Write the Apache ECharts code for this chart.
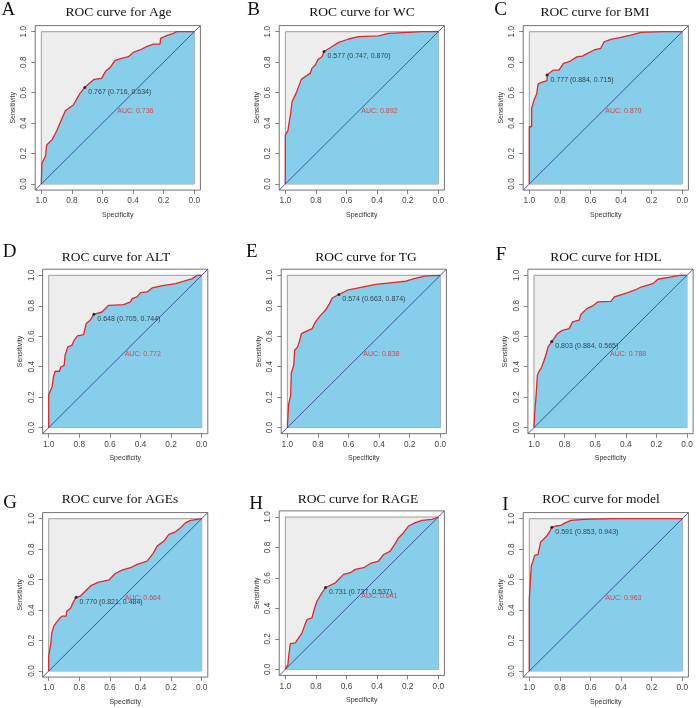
<!DOCTYPE html>
<html>
<head>
<meta charset="utf-8">
<script src="https://cdn.jsdelivr.net/npm/echarts@6/dist/echarts.min.js"></script>
<style>
  html, body { margin: 0; padding: 0; background: #fff; }
  #chart { width: 696px; height: 708px; }
</style>
</head>
<body>
<div id="chart"></div>
<script>
// ROC panels, values: [specificity, sensitivity]
const panelLetters = ['A', 'B', 'C', 'D', 'E', 'F', 'G', 'H', 'I'];
const markers = ['Age', 'WC', 'BMI', 'ALT', 'TG', 'HDL', 'AGEs', 'RAGE', 'model'];
const aucValues = [0.736, 0.892, 0.870, 0.772, 0.838, 0.788, 0.664, 0.641, 0.963];
const cutoffs = [0.767, 0.577, 0.777, 0.648, 0.574, 0.803, 0.770, 0.731, 0.591];
const bestSpec = [0.716, 0.747, 0.884, 0.705, 0.663, 0.884, 0.821, 0.737, 0.853];
const bestSens = [0.634, 0.870, 0.715, 0.744, 0.874, 0.565, 0.484, 0.537, 0.943];
const tickValues = [0, 0.2, 0.4, 0.6, 0.8, 1.0];

const rocAge = [[1,0],[0.996,0.136],[0.972,0.186],[0.965,0.256],[0.928,0.293],[0.90,0.348],
  [0.874,0.409],[0.843,0.481],[0.791,0.519],[0.747,0.595],[0.716,0.634],[0.686,0.661],
  [0.654,0.687],[0.606,0.694],[0.577,0.744],[0.551,0.764],[0.519,0.810],[0.475,0.825],
  [0.431,0.836],[0.399,0.864],[0.355,0.880],[0.312,0.902],[0.268,0.919],[0.224,0.919],
  [0.220,0.956],[0.181,0.974],[0.137,0.989],[0.115,1],[0,1]];
const rocWC = [[1,0],[1,0.322],[0.983,0.35],[0.974,0.409],[0.965,0.464],[0.956,0.540],
  [0.930,0.595],[0.895,0.687],[0.865,0.709],[0.837,0.726],[0.826,0.759],[0.804,0.781],
  [0.786,0.818],[0.760,0.836],[0.747,0.870],[0.706,0.895],[0.651,0.930],[0.586,0.952],
  [0.521,0.967],[0.390,0.972],[0.325,0.989],[0.194,0.996],[0.107,1],[0,1]];
const rocBMI = [[1,0],[1,0.376],[0.985,0.376],[0.985,0.497],[0.974,0.508],[0.969,0.551],
  [0.959,0.562],[0.952,0.591],[0.943,0.656],[0.926,0.665],[0.884,0.678],[0.884,0.715],
  [0.871,0.726],[0.843,0.748],[0.806,0.748],[0.777,0.792],[0.740,0.803],[0.686,0.836],
  [0.653,0.840],[0.620,0.858],[0.576,0.880],[0.533,0.891],[0.511,0.934],[0.467,0.950],
  [0.402,0.963],[0.336,0.978],[0.271,0.996],[0.118,1],[0,1]];
const rocALT = [[1,0],[1,0.217],[0.987,0.230],[0.978,0.267],[0.969,0.333],[0.958,0.370],
  [0.930,0.370],[0.921,0.398],[0.899,0.409],[0.893,0.475],[0.875,0.530],[0.849,0.540],
  [0.834,0.573],[0.812,0.602],[0.772,0.611],[0.755,0.683],[0.729,0.705],[0.705,0.744],
  [0.652,0.759],[0.608,0.803],[0.510,0.807],[0.466,0.825],[0.455,0.847],[0.422,0.858],
  [0.400,0.886],[0.357,0.891],[0.324,0.917],[0.247,0.934],[0.171,0.945],[0.116,0.961],
  [0.061,0.978],[0.028,1],[0,1]];
const rocTG = [[1,0],[0.991,0.155],[0.978,0.212],[0.974,0.359],[0.958,0.409],[0.952,0.508],
  [0.932,0.530],[0.919,0.573],[0.908,0.617],[0.877,0.632],[0.838,0.650],[0.816,0.694],
  [0.783,0.737],[0.751,0.770],[0.724,0.814],[0.707,0.851],[0.663,0.874],[0.608,0.902],
  [0.510,0.923],[0.422,0.941],[0.313,0.952],[0.225,0.961],[0.171,0.978],[0.094,0.996],[0,1]];
const rocHDL = [[1,0],[0.996,0.092],[0.987,0.201],[0.978,0.344],[0.967,0.370],[0.952,0.392],
  [0.934,0.442],[0.923,0.475],[0.908,0.530],[0.884,0.565],[0.847,0.617],[0.814,0.639],
  [0.770,0.650],[0.748,0.694],[0.705,0.705],[0.694,0.742],[0.654,0.781],[0.617,0.799],
  [0.584,0.825],[0.497,0.829],[0.475,0.858],[0.387,0.886],[0.344,0.902],[0.300,0.923],
  [0.223,0.945],[0.190,0.974],[0.103,0.989],[0.048,1],[0,1]];
const rocAGEs = [[1,0],[1,0.101],[0.991,0.101],[0.987,0.173],[0.980,0.250],[0.965,0.298],
  [0.943,0.327],[0.926,0.349],[0.912,0.360],[0.886,0.360],[0.882,0.393],[0.856,0.414],
  [0.842,0.447],[0.821,0.484],[0.794,0.491],[0.761,0.524],[0.724,0.561],[0.674,0.583],
  [0.608,0.596],[0.565,0.640],[0.521,0.662],[0.466,0.678],[0.422,0.700],[0.357,0.721],
  [0.317,0.772],[0.291,0.820],[0.247,0.853],[0.214,0.897],[0.171,0.914],[0.138,0.941],
  [0.105,0.974],[0.072,0.989],[0.028,0.996],[0,1]];
const rocRAGE = [[1,0],[0.983,0.031],[0.978,0.086],[0.967,0.169],[0.935,0.173],[0.913,0.206],
  [0.891,0.239],[0.874,0.287],[0.858,0.327],[0.826,0.338],[0.808,0.404],[0.793,0.447],
  [0.771,0.485],[0.737,0.537],[0.728,0.542],[0.673,0.568],[0.619,0.623],[0.575,0.634],
  [0.542,0.656],[0.488,0.667],[0.444,0.695],[0.390,0.711],[0.357,0.754],[0.314,0.776],
  [0.281,0.827],[0.259,0.864],[0.227,0.897],[0.194,0.941],[0.150,0.963],[0.107,0.978],
  [0.041,0.985],[0,1]];
const rocModel = [[1,0],[1,0.469],[0.991,0.469],[0.987,0.689],[0.974,0.728],[0.965,0.759],
  [0.943,0.765],[0.937,0.794],[0.926,0.846],[0.904,0.868],[0.886,0.886],[0.865,0.919],
  [0.853,0.943],[0.827,0.952],[0.795,0.956],[0.762,0.974],[0.729,0.989],[0.642,0.996],
  [0.445,1],[0,1]];
const rocCurves = [rocAge, rocWC, rocBMI, rocALT, rocTG, rocHDL, rocAGEs, rocRAGE, rocModel];
const chanceLine = [[1.04, -0.04], [-0.04, 1.04]];

// layout: plot box top-left per panel, title centre, panel letter centre
const boxPos = [[35.2,25.6],[279.2,25.6],[523.2,25.6],[42.6,269.2],[281.2,269.2],[527.9,269.2],
  [42.6,512.6],[279.2,510.9],[523.2,512.6]];
const boxW = 165.2, boxH = 164.5;
const titlePos = [[118.5,12],[362,12],[595,12],[116,257],[366,257],[606,257],[120,499],[358,499],[601,499]];
const letterPos = [[8.3,10],[253.5,10],[500.5,10.3],[9.7,252],[251.7,252],[501,254.7],[10,503.5],[256,504.5],[505.5,505]];

const RED = '#E3262B';
const sansFont = '"Liberation Sans", Arial, sans-serif';
const serifFont = '"Liberation Serif", "Times New Roman", serif';

const grid = [], xAxis = [], yAxis = [], series = [], graphic = [];

markers.forEach((m, i) => {
  grid.push({
    left: boxPos[i][0], top: boxPos[i][1], width: boxW, height: boxH,
    show: true, backgroundColor: '#fff', borderColor: '#737373', borderWidth: 1
  });
  const axisCommon = {
    gridIndex: i, type: 'value', min: -0.04, max: 1.04,
    nameLocation: 'middle',
    nameTextStyle: { fontSize: 7, color: '#333', fontFamily: sansFont },
    axisLine: { show: false, onZero: false },
    axisTick: { show: true, length: 4, customValues: tickValues, lineStyle: { color: '#666', width: 0.8 } },
    axisLabel: { customValues: tickValues, formatter: v => v.toFixed(1), fontSize: 8.3, margin: 7,
      color: '#444', fontFamily: sansFont },
    splitLine: { show: false }
  };
  xAxis.push(Object.assign({}, axisCommon, { inverse: true, name: 'Specificity', nameGap: 21 }));
  yAxis.push(Object.assign({}, axisCommon, {
    name: 'Sensitivity', nameGap: 19, nameRotate: 90,
    axisLabel: Object.assign({}, axisCommon.axisLabel, { rotate: 90 })
  }));

  series.push({
    type: 'line', xAxisIndex: i, yAxisIndex: i, data: rocCurves[i],
    showSymbol: false, silent: true, z: 2,
    lineStyle: { color: RED, width: 1.3 },
    areaStyle: { color: '#87CEEB', opacity: 1 },
    markArea: {
      silent: true,
      itemStyle: { color: '#EDEDED', borderColor: '#9c9c9c', borderWidth: 1 },
      data: [[{ coord: [1, 0] }, { coord: [0, 1] }]]
    }
  });
  series.push({
    type: 'line', xAxisIndex: i, yAxisIndex: i, data: chanceLine,
    showSymbol: false, silent: true, z: 3,
    lineStyle: { color: '#2E3192', width: 0.8 }
  });
  series.push({
    type: 'scatter', xAxisIndex: i, yAxisIndex: i, data: [[bestSpec[i], bestSens[i]]],
    symbolSize: 3, itemStyle: { color: '#111' }, silent: true, z: 5,
    label: {
      show: true, position: 'right', distance: 2, offset: [0, 4.5],
      formatter: () => cutoffs[i].toFixed(3) + ' (' + bestSpec[i].toFixed(3) + ', ' + bestSens[i].toFixed(3) + ')',
      fontSize: 7, color: '#222', fontFamily: sansFont
    }
  });
  series.push({
    type: 'scatter', xAxisIndex: i, yAxisIndex: i, data: [[0.5, 0.5]],
    symbolSize: 1, itemStyle: { color: 'transparent' }, silent: true, z: 5,
    label: {
      show: true, position: [0, 0], align: 'left', verticalAlign: 'top',
      formatter: () => 'AUC: ' + aucValues[i].toFixed(3),
      fontSize: 7, color: RED, fontFamily: sansFont
    }
  });

  graphic.push({
    type: 'text', x: titlePos[i][0], y: titlePos[i][1], silent: true,
    style: { text: 'ROC curve for ' + m, font: '13.5px ' + serifFont, fill: '#111',
      textAlign: 'center', textVerticalAlign: 'middle', align: 'center', verticalAlign: 'middle' }
  });
  graphic.push({
    type: 'text', x: letterPos[i][0], y: letterPos[i][1], silent: true,
    style: { text: panelLetters[i], font: '19px ' + serifFont, fill: '#111',
      textAlign: 'center', textVerticalAlign: 'middle', align: 'center', verticalAlign: 'middle' }
  });
});

const chart = echarts.init(document.getElementById('chart'));
chart.setOption({
  animation: false,
  backgroundColor: '#fff',
  grid, xAxis, yAxis, series, graphic
});
</script>
</body>
</html>
